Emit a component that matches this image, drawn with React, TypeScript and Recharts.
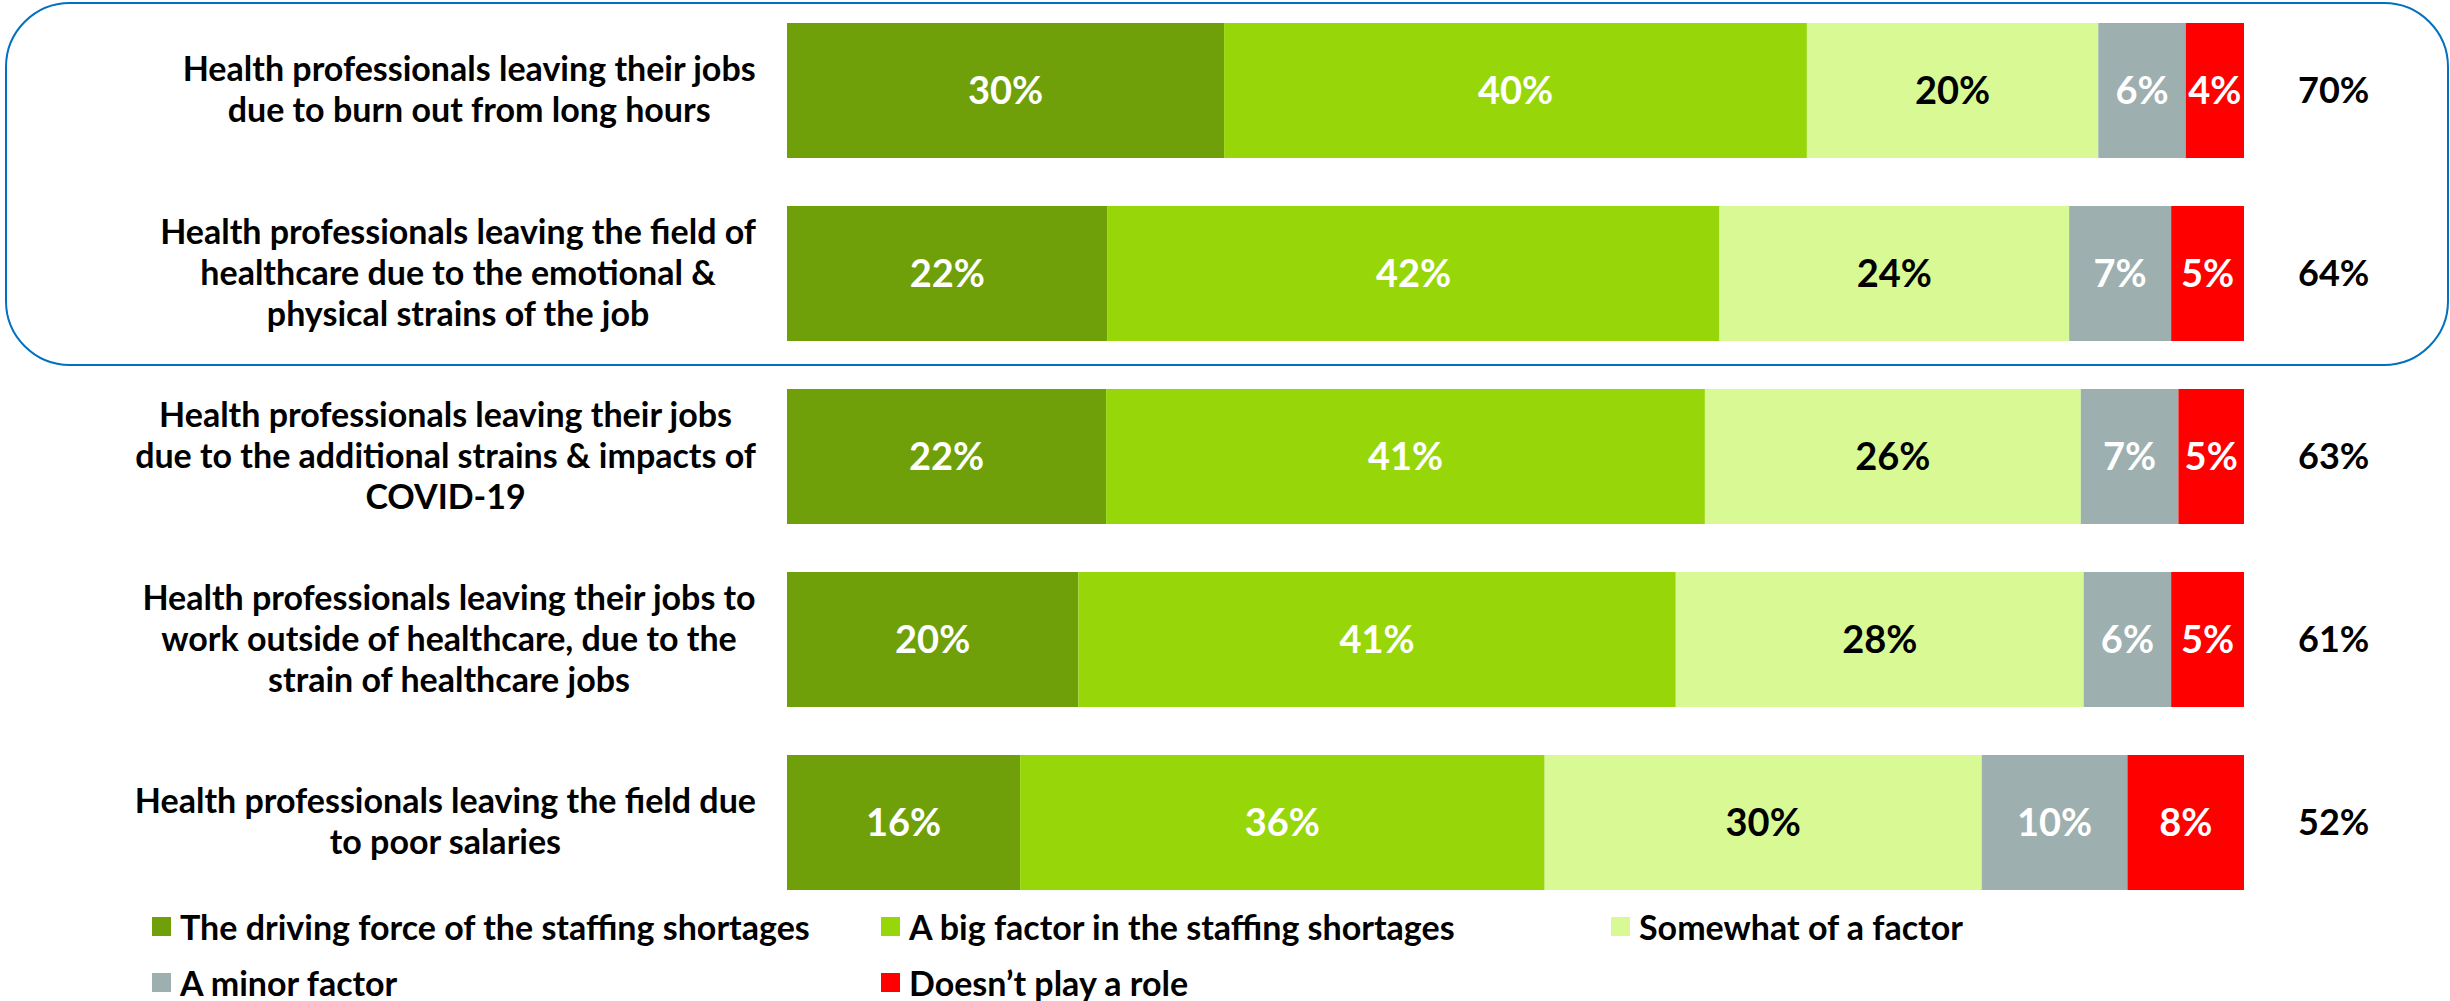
import React from 'react';
import { BarChart, Bar, XAxis, YAxis, LabelList, Legend } from 'recharts';

// Categories (line breaks as in the original slide)
const categories = [
  'Health professionals leaving their jobs\ndue to burn out from long hours',
  'Health professionals leaving the field of\nhealthcare due to the emotional &\nphysical strains of the job',
  'Health professionals leaving their jobs\ndue to the additional strains & impacts of\nCOVID-19',
  'Health professionals leaving their jobs to\nwork outside of healthcare, due to the\nstrain of healthcare jobs',
  'Health professionals leaving the field due\nto poor salaries',
];

const drivingForce = [30, 22, 21.9, 20, 16];
const bigFactor = [40, 42, 41.1, 41, 36];
const somewhatFactor = [20, 24, 25.8, 28, 30];
const minorFactor = [6, 7, 6.7, 6, 10];
const noRole = [4, 5, 4.5, 5, 8];
const netTop2 = [70, 64, 63, 61, 52];

const seriesNames = [
  'The driving force of the staffing shortages',
  'A big factor in the staffing shortages',
  'Somewhat of a factor',
  'A minor factor',
  'Doesn\u2019t play a role',
];

const FONT = 'Lato, "Open Sans", sans-serif';
const LABEL_SIZE = 34;

const data = categories.map((name, i) => ({
  name,
  driving: drivingForce[i],
  big: bigFactor[i],
  somewhat: somewhatFactor[i],
  minor: minorFactor[i],
  none: noRole[i],
  net: netTop2[i],
}));

let measureCtx: CanvasRenderingContext2D | null = null;
const measure = (text: string) => {
  if (!measureCtx) {
    measureCtx = document.createElement('canvas').getContext('2d');
  }
  if (!measureCtx) return text.length * 17;
  measureCtx.font = `bold ${LABEL_SIZE}px ${FONT}`;
  return measureCtx.measureText(text).width;
};

const CategoryTick = (props: any) => {
  const { x, y, payload } = props;
  const lines: string[] = String(payload.value).split('\n');
  const blockW = Math.max(...lines.map(measure));
  const cx = x - blockW / 2;
  const lh = 41;
  return (
    <g>
      {lines.map((ln, i) => (
        <text
          key={i}
          x={cx}
          y={y + (i - (lines.length - 1) / 2) * lh + 11}
          textAnchor="middle"
          fontFamily={FONT}
          fontWeight="bold"
          fontSize={LABEL_SIZE}
          fill="#000"
        >
          {ln}
        </text>
      ))}
    </g>
  );
};

const LegendContent = (props: any) => {
  const items = [...(props.payload || [])].sort(
    (a: any, b: any) => seriesNames.indexOf(a.value) - seriesNames.indexOf(b.value)
  );
  return (
    <div
      style={{
        display: 'grid',
        gridTemplateColumns: '729px 730px 729px',
        gridAutoRows: '56px',
        paddingLeft: 152,
        fontFamily: FONT,
        fontWeight: 'bold',
        fontSize: LABEL_SIZE,
        color: '#000',
      }}
    >
      {items.map((p: any) => (
        <div key={p.value} style={{ display: 'flex', alignItems: 'center' }}>
          <span style={{ width: 19, height: 19, background: p.color, marginRight: 9, flex: 'none' }} />
          <span style={{ whiteSpace: 'nowrap' }}>{p.value}</span>
        </div>
      ))}
    </div>
  );
};

const pct = (v: any) => `${Math.round(Number(v))}%`;

const valueLabel = (key: string, fill: string) => (
  <LabelList
    dataKey={key}
    position="center"
    formatter={pct}
    fill={fill}
    fontFamily={FONT}
    fontWeight="bold"
    fontSize={38}
  />
);

const App = () => {
  return (
    <div style={{ position: 'absolute', left: 0, top: 0, width: 2450, height: 1001, background: '#fff' }}>
      <BarChart
        width={2450}
        height={1001}
        data={data}
        layout="vertical"
        margin={{ top: -1, right: 206, bottom: 87, left: 0 }}
        barSize={135}
      >
        <XAxis type="number" domain={[0, 100]} hide />
        <YAxis
          type="category"
          dataKey="name"
          width={787}
          axisLine={false}
          tickLine={false}
          tickSize={0}
          tickMargin={31}
          tick={<CategoryTick />}
          interval={0}
        />
        <Legend
          layout="horizontal"
          verticalAlign="middle"
          align="center"
          wrapperStyle={{ left: 0, top: 898, width: 2450 }}
          content={<LegendContent />}
        />
        <Bar dataKey="driving" name={seriesNames[0]} stackId="a" fill="#6FA00A" isAnimationActive={false}>
          {valueLabel('driving', '#fff')}
        </Bar>
        <Bar dataKey="big" name={seriesNames[1]} stackId="a" fill="#97D70A" isAnimationActive={false}>
          {valueLabel('big', '#fff')}
        </Bar>
        <Bar dataKey="somewhat" name={seriesNames[2]} stackId="a" fill="#D8F994" isAnimationActive={false}>
          {valueLabel('somewhat', '#000')}
        </Bar>
        <Bar dataKey="minor" name={seriesNames[3]} stackId="a" fill="#9DAFAE" isAnimationActive={false}>
          {valueLabel('minor', '#fff')}
        </Bar>
        <Bar dataKey="none" name={seriesNames[4]} stackId="a" fill="#FF0000" isAnimationActive={false}>
          {valueLabel('none', '#fff')}
          <LabelList
            dataKey="net"
            position="right"
            offset={54}
            formatter={pct}
            fill="#000"
            fontFamily={FONT}
            fontWeight="bold"
            fontSize={36}
          />
        </Bar>
      </BarChart>
      {/* highlight box around the top two items */}
      <div
        style={{
          position: 'absolute',
          left: 5,
          top: 2,
          width: 2444,
          height: 364,
          boxSizing: 'border-box',
          border: '2.5px solid #0070C0',
          borderRadius: 65,
          pointerEvents: 'none',
        }}
      />
    </div>
  );
};

export default App;
